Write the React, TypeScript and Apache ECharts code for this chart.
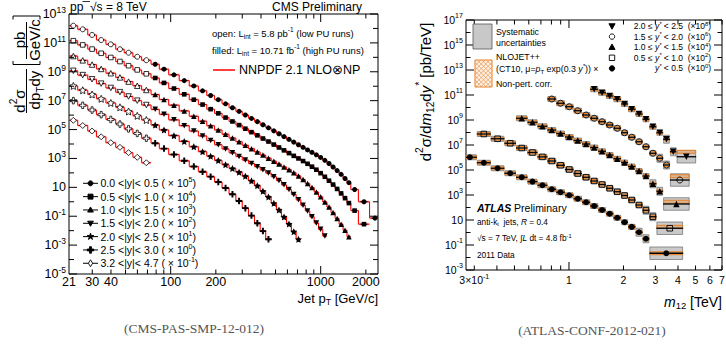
import React, { useEffect, useRef } from "react";
import * as echarts from "echarts";

const SANS = "'Liberation Sans', Arial, Helvetica, sans-serif";
const SERIF = "'Liberation Serif', 'DejaVu Serif', serif";

/* ================= left panel: CMS-PAS-SMP-12-012 ================= */
const ptEdges = [21, 24, 28, 32, 37, 43, 49, 56, 64, 74, 84, 97, 114, 133, 153, 174, 196, 220, 245, 272, 300, 330, 362, 395, 430, 468, 507, 548, 592, 638, 686, 737, 790, 846, 905, 967, 1032, 1101, 1172, 1248, 1327, 1410, 1497, 1588, 1784, 2116, 2500];
const firstHighPUBin = 9;
const cmsRapidity = ["0.0 <|y|< 0.5", "0.5 <|y|< 1.0", "1.0 <|y|< 1.5", "1.5 <|y|< 2.0", "2.0 <|y|< 2.5", "2.5 <|y|< 3.0", "3.2 <|y|< 4.7"];
const cmsScaleExp = [5, 4, 3, 2, 1, 0, -1];

// d2sigma/dpT dy [pb/(GeV/c)], low-PU (open) bins 0..8, high-PU (filled) from bin 9
const y00Open = [1.55e7, 8.71e6, 3.55e6, 1.58e6, 7.94e5, 3.63e5, 2.09e5, 1.1e5, 6.31e4];
const y00Filled = [3.31e4, 1.51e4, 6.17e3, 2.45e3, 1.05e3, 479, 229, 117, 60.3, 32.4, 18.2, 10.2, 5.89, 3.55, 2.14, 1.32, 0.813, 0.513, 0.324, 0.209, 0.135, 8.91e-2, 5.89e-2, 3.89e-2, 2.63e-2, 1.78e-2, 1.17e-2, 7.41e-3, 4.47e-3, 2.57e-3, 1.45e-3, 7.94e-4, 4.07e-4, 2.09e-4, 7.08e-5, 1.0e-5, 7.41e-7];
const y05Open = [1.41e7, 7.24e6, 3.72e6, 1.91e6, 9.77e5, 5.13e5, 2.63e5, 1.35e5, 7.24e4];
const y05Filled = [3.72e4, 1.7e4, 6.92e3, 2.75e3, 1.17e3, 537, 257, 132, 67.6, 36.3, 20.4, 11.5, 6.61, 3.98, 2.4, 1.48, 0.912, 0.575, 0.363, 0.234, 0.151, 0.1, 6.61e-2, 4.27e-2, 2.69e-2, 1.66e-2, 9.55e-3, 5.37e-3, 2.88e-3, 1.55e-3, 7.76e-4, 3.8e-4, 1.78e-4, 8.13e-5, 2.45e-5, 2.82e-6];
const y10Open = [1.23e7, 6.17e6, 3.16e6, 1.58e6, 7.94e5, 4.07e5, 2.09e5, 1.07e5, 5.5e4];
const y10Filled = [2.63e4, 1.2e4, 4.9e3, 1.95e3, 832, 380, 182, 93.3, 47.9, 25.7, 14.5, 8.13, 4.68, 2.82, 1.7, 1.05, 0.646, 0.407, 0.257, 0.166, 0.102, 6.17e-2, 3.47e-2, 1.86e-2, 9.55e-3, 4.68e-3, 2.19e-3, 9.77e-4, 4.27e-4, 1.78e-4, 7.08e-5, 2.82e-5, 1.05e-5, 3.8e-6];
const y15Open = [1.17e7, 5.89e6, 3.02e6, 1.51e6, 7.59e5, 3.89e5, 1.95e5, 1.0e5, 5.01e4];
const y15Filled = [2.51e4, 1.15e4, 4.68e3, 1.86e3, 794, 363, 174, 89.1, 45.7, 24.5, 13.8, 7.76, 4.47, 2.69, 1.62, 0.977, 0.55, 0.295, 0.148, 7.08e-2, 3.16e-2, 1.38e-2, 5.75e-3, 2.34e-3, 9.12e-4, 3.39e-4, 1.23e-4, 4.27e-5];
const y20Open = [1.05e7, 5.25e6, 2.69e6, 1.35e6, 6.92e5, 3.47e5, 1.78e5, 8.91e4, 4.57e4];
const y20Filled = [2.04e4, 9.33e3, 3.8e3, 1.51e3, 646, 295, 141, 72.4, 37.2, 20.0, 11.2, 5.89, 2.82, 1.29, 0.537, 0.214, 7.76e-2, 2.75e-2, 8.91e-3, 2.88e-3, 8.51e-4, 2.51e-4];
const y25Open = [1.0e7, 4.79e6, 2.24e6, 1.07e6, 5.01e5, 2.4e5, 1.12e5, 5.37e4, 2.51e4];
const y25Filled = [1.12e4, 4.79e3, 1.86e3, 692, 275, 120, 55.0, 23.4, 9.12, 3.31, 1.12, 0.363, 0.11, 3.24e-2, 9.33e-3, 2.51e-3];
const y32Open = [4.37e6, 1.91e6, 7.94e5, 3.16e5, 1.23e5, 5.89e4, 2.51e4, 1.2e4, 5.01e3];

const cmsXTickValues = [30, 40, 50, 60, 70, 80, 90, 100, 200, 300, 400, 500, 600, 700, 800, 900, 1000, 2000];
const cmsXTickLabels = ["30", "40", "", "", "", "", "", "100", "200", "", "", "", "", "", "", "", "1000", "2000"];
const cmsYTickExps = [-5, -4, -3, -2, -1, 0, 1, 2, 3, 4, 5, 6, 7, 8, 9, 10, 11, 12, 13];

/* ================= right panel: ATLAS-CONF-2012-021 ================= */
const m12Edges = [0.26, 0.31, 0.37, 0.44, 0.51, 0.59, 0.67, 0.76, 0.85, 0.95, 1.06, 1.18, 1.31, 1.45, 1.6, 1.76, 1.94, 2.12, 2.33, 2.55, 2.78, 3.04, 3.31, 3.61, 3.93, 4.27, 4.64, 5.04];
// d2sigma/dm12 dy* [pb/TeV], unscaled; first bin index into m12Edges; last wide bin [lo, hi, value]
const ys00 = [1.05e6, 3.8e5, 1.38e5, 5.5e4, 2.63e4, 1.17e4, 6.03e3, 2.88e3, 1.66e3, 955, 501, 263, 132, 63.1, 31.6, 15.1, 6.61, 2.82, 1.05, 0.316];
const ys00Wide = [2.78, 4.27, 0.0219];
const ys05 = [7.59e5, 3.16e5, 1.38e5, 5.75e4, 2.51e4, 1.12e4, 5.25e3, 2.4e3, 1.1e3, 525, 263, 132, 69.2, 34.7, 18.2, 9.12, 3.98, 1.58, 0.603, 0.182];
const ys05Wide = [3.04, 4.27, 0.0219];
const ys10 = [1.38e5, 6.61e4, 3.16e4, 1.58e4, 8.32e3, 4.37e3, 2.29e3, 1.2e3, 631, 316, 158, 79.4, 39.8, 19.1, 8.32, 3.31, 0.794, 0.2];
const ys10Wide = [3.31, 4.64, 0.0191];
const ys15 = [4.79e4, 2.19e4, 1.15e4, 5.5e3, 2.51e3, 1.38e3, 724, 398, 219, 95.5, 41.7, 18.2, 7.24, 2.19, 0.871, 0.251];
const ys15Wide = [3.61, 4.64, 0.0158];
const ys20 = [2.88e3, 1.51e3, 832, 457, 191, 72.4, 30.2, 11.5, 2.88, 0.955, 0.288, 0.0288];
const ys20Wide = [3.93, 5.04, 0.0115];
const atlasFirstBin = [0, 1, 4, 7, 12];
const atlasScaleExp = [0, 2, 4, 6, 8];
const atlasWideNloRatio = [1.0, 1.3, 1.5, 2.0, 2.5];
const atlasYStar = ["{it|y}{itsup|*} < 0.5", "0.5 ≤ {it|y}{itsup|*} < 1.0", "1.0 ≤ {it|y}{itsup|*} < 1.5", "1.5 ≤ {it|y}{itsup|*} < 2.0", "2.0 ≤ {it|y}{itsup|*} < 2.5"];

const atlasXTickValues = [0.3, 0.4, 0.5, 0.6, 0.7, 0.8, 0.9, 1, 2, 3, 4, 5, 6, 7];
const atlasXTickLabels = ["3×10{sup|-1}", "", "", "", "", "", "", "1", "2", "3", "4", "5", "6", "7"];
const atlasYTickExps = [-3, -2, -1, 0, 1, 2, 3, 4, 5, 6, 7, 8, 9, 10, 11, 12, 13, 14, 15, 16, 17];

/* ================= helpers ================= */
function richStyles(fs: number, family: string, fill: string) {
  const s = Math.round(fs * 0.68 * 10) / 10;
  return {
    sup: { fontSize: s, fontFamily: family, fill, lineHeight: fs * 0.75, verticalAlign: "top" },
    sub: { fontSize: s, fontFamily: family, fill, lineHeight: fs * 0.75, verticalAlign: "bottom" },
    it: { fontSize: fs, fontFamily: family, fill, fontStyle: "italic" },
    itsup: { fontSize: s, fontFamily: family, fill, fontStyle: "italic", lineHeight: fs * 0.75, verticalAlign: "top" },
    bi: { fontSize: fs, fontFamily: family, fill, fontStyle: "italic", fontWeight: "bold" },
  };
}

function T(text: string, x: number, y: number, fs: number, o: any = {}) {
  const family = o.family || SANS;
  const fill = o.fill || "#000";
  return {
    type: "text",
    x,
    y,
    rotation: o.rotation || 0,
    silent: true,
    z: 100,
    style: {
      text,
      fill,
      fontSize: fs,
      fontFamily: family,
      fontStyle: o.fontStyle || "normal",
      align: o.align || "left",
      verticalAlign: o.va || "middle",
      lineHeight: fs * (o.lh || 1.4),
      rich: richStyles(fs, family, fill),
    },
  };
}

function L(x1: number, y1: number, x2: number, y2: number, stroke = "#000", lw = 1) {
  return { type: "line", silent: true, z: 100, shape: { x1, y1, x2, y2 }, style: { stroke, lineWidth: lw } };
}

function markerEl(kind: string, cx: number, cy: number, r: number, filled: boolean) {
  const style = { fill: filled ? "#000" : "#fff", stroke: "#000", lineWidth: 0.9 };
  const base = { silent: true, z: 101, style };
  if (kind === "circle") return { ...base, type: "circle", shape: { cx, cy, r } };
  if (kind === "square") return { ...base, type: "rect", shape: { x: cx - r, y: cy - r, width: 2 * r, height: 2 * r } };
  let pts: number[][] = [];
  if (kind === "up") pts = [[cx, cy - r * 1.2], [cx + r * 1.15, cy + r * 0.85], [cx - r * 1.15, cy + r * 0.85]];
  if (kind === "down") pts = [[cx, cy + r * 1.2], [cx + r * 1.15, cy - r * 0.85], [cx - r * 1.15, cy - r * 0.85]];
  if (kind === "diamond") pts = [[cx, cy - r * 1.4], [cx + r * 0.85, cy], [cx, cy + r * 1.4], [cx - r * 0.85, cy]];
  if (kind === "star") {
    for (let k = 0; k < 10; k++) {
      const a = -Math.PI / 2 + (k * Math.PI) / 5;
      const rr = k % 2 === 0 ? r * 1.4 : r * 0.55;
      pts.push([cx + rr * Math.cos(a), cy + rr * Math.sin(a)]);
    }
  }
  if (kind === "cross") {
    const a = r * 1.3, b = r * 0.38;
    pts = [[cx - b, cy - a], [cx + b, cy - a], [cx + b, cy - b], [cx + a, cy - b], [cx + a, cy + b], [cx + b, cy + b], [cx + b, cy + a], [cx - b, cy + a], [cx - b, cy + b], [cx - a, cy + b], [cx - a, cy - b], [cx - b, cy - b]];
  }
  return { ...base, type: "polygon", shape: { points: pts } };
}

function hatch(x0: number, y0: number, w: number, h: number, step: number, color: string) {
  const els: any[] = [];
  for (let t = -h + step / 2; t < w; t += step) {
    let xa = x0 + t, ya = y0, xb = x0 + t + h, yb = y0 + h;
    if (xa < x0) { ya += x0 - xa; xa = x0; }
    if (xb > x0 + w) { yb -= xb - (x0 + w); xb = x0 + w; }
    els.push(L(xa, ya, xb, yb, color, 0.6));
    els.push(L(2 * x0 + w - xa, ya, 2 * x0 + w - xb, yb, color, 0.6));
  }
  return els;
}

const STAR = "path://M0,-10L2.9,-4L9.5,-3.1L4.7,1.5L5.9,8.1L0,5L-5.9,8.1L-4.7,1.5L-9.5,-3.1L-2.9,-4Z";
const CROSS = "path://M-3,-10L3,-10L3,-3L10,-3L10,3L3,3L3,10L-3,10L-3,3L-10,3L-10,-3L-3,-3Z";
const symbolFor: any = {
  circle: ["circle", 0, 5],
  square: ["rect", 0, 4.6],
  up: ["triangle", 0, 5.5],
  down: ["triangle", 180, 5.5],
  star: [STAR, 0, 7],
  cross: [CROSS, 0, 6.5],
  diamond: ["diamond", 0, 6],
};

function axisTicks(idx: number, dir: string, vals: number[], lens: number[], labels: string[], ref: number, fs: number, gap: number, lh: number) {
  return {
    type: "custom",
    coordinateSystem: "cartesian2d",
    xAxisIndex: idx,
    yAxisIndex: idx,
    silent: true,
    z: 20,
    encode: dir === "x" ? { x: 0, y: 1 } : { x: 1, y: 0 },
    data: vals.map((v, i) => [v, ref, i]),
    renderItem: (params: any, api: any) => {
      const cs = params.coordSys;
      const i = api.value(2);
      const len = lens[i];
      const els: any[] = [];
      if (dir === "x") {
        const p = api.coord([api.value(0), ref])[0];
        const b = cs.y + cs.height, t = cs.y;
        els.push({ type: "line", shape: { x1: p, y1: b, x2: p, y2: b - len }, style: { stroke: "#000", lineWidth: 1 } });
        els.push({ type: "line", shape: { x1: p, y1: t, x2: p, y2: t + len }, style: { stroke: "#000", lineWidth: 1 } });
        if (labels[i]) {
          els.push({ type: "text", x: p, y: b + gap, style: { text: labels[i], fill: "#000", fontSize: fs, fontFamily: SANS, align: "center", verticalAlign: "top", lineHeight: fs * lh, rich: richStyles(fs, SANS, "#000") } });
        }
      } else {
        const p = api.coord([ref, api.value(0)])[1];
        const l = cs.x, r = cs.x + cs.width;
        els.push({ type: "line", shape: { x1: l, y1: p, x2: l + len, y2: p }, style: { stroke: "#000", lineWidth: 1 } });
        els.push({ type: "line", shape: { x1: r, y1: p, x2: r - len, y2: p }, style: { stroke: "#000", lineWidth: 1 } });
        if (labels[i]) {
          els.push({ type: "text", x: l - gap, y: p, style: { text: labels[i], fill: "#000", fontSize: fs, fontFamily: SANS, align: "right", verticalAlign: "middle", lineHeight: fs * lh, rich: richStyles(fs, SANS, "#000") } });
        }
      }
      return { type: "group", children: els };
    },
  };
}

function expLabel(e: number) {
  return e === 1 ? "10" : "10{sup|" + e + "}";
}

function cmsHistRender(params: any, api: any) {
  const lo = api.value(0), hi = api.value(1), v = api.value(2), vn = api.value(3);
  const a = api.coord([lo, v]), b = api.coord([hi, v]);
  const bu = api.coord([lo, v * 1.3]), bd = api.coord([hi, v / 1.3]);
  const ch: any[] = [
    { type: "rect", shape: { x: bu[0], y: bu[1], width: bd[0] - bu[0], height: bd[1] - bu[1] }, style: { fill: "rgba(255,120,120,0.25)" } },
    { type: "line", shape: { x1: a[0], y1: a[1], x2: b[0], y2: b[1] }, style: { stroke: "#ff0000", lineWidth: 1.1 } },
  ];
  if (vn > 0) {
    const c = api.coord([hi, vn]);
    ch.push({ type: "line", shape: { x1: b[0], y1: b[1], x2: c[0], y2: c[1] }, style: { stroke: "#ff0000", lineWidth: 1.1 } });
  }
  const e1 = api.coord([Math.pow(lo, 0.82) * Math.pow(hi, 0.18), v]);
  const e2 = api.coord([Math.pow(lo, 0.18) * Math.pow(hi, 0.82), v]);
  ch.push({ type: "line", shape: { x1: e1[0], y1: e1[1], x2: e2[0], y2: e2[1] }, style: { stroke: "#000", lineWidth: 1 } });
  return { type: "group", children: ch };
}

function atlasBoxRender(params: any, api: any) {
  const lo = api.value(0), hi = api.value(1), v = api.value(2), s = api.value(3), r = api.value(4);
  const f = Math.pow(10, s);
  const a = api.coord([lo, v * f]), b = api.coord([hi, v / f]);
  const th = v * r, g = Math.pow(10, 0.12);
  const c = api.coord([lo, th * g]), d = api.coord([hi, th / g]);
  const e1 = api.coord([lo, v]), e2 = api.coord([hi, v]);
  return {
    type: "group",
    children: [
      { type: "rect", shape: { x: a[0] + 0.5, y: a[1], width: b[0] - a[0] - 1, height: b[1] - a[1] }, style: { fill: "#c9c9c9", stroke: "#6a6a6a", lineWidth: 0.7 } },
      { type: "rect", shape: { x: c[0] + 0.5, y: c[1], width: d[0] - c[0] - 1, height: d[1] - c[1] }, style: { fill: "rgba(238,140,50,0.35)", stroke: "#e8832a", lineWidth: 1 } },
      { type: "line", shape: { x1: e1[0], y1: e1[1], x2: e2[0], y2: e2[1] }, style: { stroke: "#000", lineWidth: 1.3 } },
    ],
  };
}

function buildOption() {
  const series: any[] = [];

  /* ---- CMS ---- */
  const cmsDefs = [
    { low: y00Open, high: y00Filled, kind: "circle" },
    { low: y05Open, high: y05Filled, kind: "square" },
    { low: y10Open, high: y10Filled, kind: "up" },
    { low: y15Open, high: y15Filled, kind: "down" },
    { low: y20Open, high: y20Filled, kind: "star" },
    { low: y25Open, high: y25Filled, kind: "cross" },
    { low: y32Open, high: [] as number[], kind: "diamond" },
  ];
  cmsDefs.forEach((d, i) => {
    const sc = Math.pow(10, cmsScaleExp[i]);
    const vals = d.low.concat(d.high);
    const hist = vals.map((v, k) => [ptEdges[k], ptEdges[k + 1], v * sc, k + 1 < vals.length ? vals[k + 1] * sc : 0]);
    series.push({ type: "custom", coordinateSystem: "cartesian2d", xAxisIndex: 0, yAxisIndex: 0, encode: { x: 0, y: 2 }, data: hist, renderItem: cmsHistRender, clip: true, silent: true, z: 2 });
    const sym = symbolFor[d.kind];
    series.push({
      type: "scatter", xAxisIndex: 0, yAxisIndex: 0, silent: true, z: 4,
      symbol: sym[0], symbolRotate: sym[1], symbolSize: sym[2],
      itemStyle: { color: "#fff", borderColor: "#000", borderWidth: 0.8, opacity: 1 },
      data: d.low.map((v, k) => [Math.sqrt(ptEdges[k] * ptEdges[k + 1]), v * sc]),
    });
    if (d.high.length) {
      series.push({
        type: "scatter", xAxisIndex: 0, yAxisIndex: 0, silent: true, z: 4,
        symbol: sym[0], symbolRotate: sym[1], symbolSize: sym[2],
        itemStyle: { color: "#000", opacity: 1 },
        data: d.high.map((v, j) => {
          const k = firstHighPUBin + j;
          return [Math.sqrt(ptEdges[k] * ptEdges[k + 1]), v * sc];
        }),
      });
    }
  });

  /* ---- ATLAS ---- */
  const atlasDefs = [
    { vals: ys00, wide: ys00Wide, kind: "circle", filled: true },
    { vals: ys05, wide: ys05Wide, kind: "square", filled: false },
    { vals: ys10, wide: ys10Wide, kind: "up", filled: true },
    { vals: ys15, wide: ys15Wide, kind: "circle", filled: false },
    { vals: ys20, wide: ys20Wide, kind: "down", filled: true },
  ];
  atlasDefs.forEach((d, i) => {
    const sc = Math.pow(10, atlasScaleExp[i]);
    const n = d.vals.length;
    const boxes: number[][] = d.vals.map((v, j) => {
      const k = atlasFirstBin[i] + j;
      return [m12Edges[k], m12Edges[k + 1], v * sc, j >= n - 2 ? 0.32 : 0.2, 1];
    });
    boxes.push([d.wide[0], d.wide[1], d.wide[2] * sc, 0.5, atlasWideNloRatio[i]]);
    series.push({ type: "custom", coordinateSystem: "cartesian2d", xAxisIndex: 1, yAxisIndex: 1, encode: { x: 0, y: 2 }, data: boxes, renderItem: atlasBoxRender, clip: true, silent: true, z: 2 });
    const sym = symbolFor[d.kind];
    series.push({
      type: "scatter", xAxisIndex: 1, yAxisIndex: 1, silent: true, z: 4,
      symbol: sym[0], symbolRotate: sym[1], symbolSize: sym[2] + 1,
      itemStyle: d.filled ? { color: "#000", opacity: 1 } : { color: "rgba(0,0,0,0)", borderColor: "#000", borderWidth: 0.9, opacity: 1 },
      data: boxes.map((b) => [Math.sqrt(b[0] * b[1]), b[2]]),
    });
  });

  /* ---- ticks & tick labels ---- */
  series.push(axisTicks(0, "x", cmsXTickValues, cmsXTickValues.map((v) => (v === 100 || v === 1000 ? 8 : 4.5)), cmsXTickLabels, 1, 12.5, 1, 1.15));
  series.push(axisTicks(0, "x", [21], [0], ["21"], 1, 12.5, 1, 1.15));
  series.push(axisTicks(0, "y", cmsYTickExps.map((e) => Math.pow(10, e)), cmsYTickExps.map((e) => (Math.abs(e) % 2 === 1 ? 8 : 5)), cmsYTickExps.map((e) => (Math.abs(e) % 2 === 1 ? expLabel(e) : "")), 100, 12.5, 3, 1.4));
  series.push(axisTicks(1, "x", atlasXTickValues, atlasXTickValues.map((v) => (v === 1 ? 8 : 4.5)), atlasXTickLabels, 1, 10.5, 3, 1.3));
  series.push(axisTicks(1, "y", atlasYTickExps.map((e) => Math.pow(10, e)), atlasYTickExps.map((e) => (Math.abs(e) % 2 === 1 ? 8 : 4.5)), atlasYTickExps.map((e) => (Math.abs(e) % 2 === 1 ? expLabel(e) : "")), 1, 10.5, 3, 1.4));

  /* ---- decorations ---- */
  const g: any[] = [];
  // CMS y-axis title (rotated fraction)
  const rot = Math.PI / 2;
  g.push(T("d{sup|2}σ", 19, 101, 15, { rotation: rot, align: "center" }));
  g.push(L(26.5, 69, 26.5, 113, "#000", 1));
  g.push(T("dp{sub|T}dy", 34.5, 90, 15, { rotation: rot, align: "center" }));
  g.push({ type: "polyline", silent: true, z: 100, shape: { points: [[13, 61], [13, 64.5], [40, 64.5], [40, 61]] }, style: { stroke: "#000", lineWidth: 1, fill: null } });
  g.push({ type: "polyline", silent: true, z: 100, shape: { points: [[13, 19.5], [13, 16], [40, 16], [40, 19.5]] }, style: { stroke: "#000", lineWidth: 1, fill: null } });
  g.push(T("pb", 19.5, 40, 15, { rotation: rot, align: "center" }));
  g.push(L(26.5, 22, 26.5, 59, "#000", 1));
  g.push(T("GeV/c", 34.5, 40, 15, { rotation: rot, align: "center" }));
  // CMS header
  g.push(T("pp  √s = 8 TeV", 70, 7, 12));
  g.push(L(82.5, 1.5, 90, 1.5, "#000", 0.8));
  g.push(T("CMS Preliminary", 362, 7, 12, { align: "right" }));
  g.push(T("open: L{sub|int} = 5.8 pb{sup|-1} (low PU runs)", 212, 33, 9.5));
  g.push(T("filled: L{sub|int} = 10.71 fb{sup|-1} (high PU runs)", 212, 50, 9.5));
  g.push(L(213, 70, 235, 70, "#ff0000", 1.5));
  g.push(T("NNPDF 2.1 NLO⊗NP", 239, 70, 12.5));
  // CMS rapidity legend
  const cmsKinds = ["circle", "square", "up", "down", "star", "cross", "diamond"];
  cmsRapidity.forEach((lab, i) => {
    const y = 183.3 + i * 13.33;
    g.push(L(83, y, 98, y, "#000", 1));
    g.push(markerEl(cmsKinds[i], 90.5, y, 2.5, i < 6));
    g.push(T(lab + " ( × 10{sup|" + cmsScaleExp[i] + "})", 100.5, y, 10.5, { lh: 1.25 }));
  });
  g.push(T("Jet p{sub|T} [GeV/c]", 378, 298.5, 13, { align: "right", lh: 1.2 }));
  g.push(T("(CMS-PAS-SMP-12-012)", 194, 328, 13.5, { align: "center", family: SERIF, fill: "#555", lh: 1.2 }));

  // ATLAS y title
  g.push(T("d{sup|2}σ/d{it|m}{sub|12}d{it|y}{itsup|*} [pb/TeV]", 425, 92, 15, { rotation: rot, align: "center" }));
  // ATLAS legend (left)
  g.push({ type: "rect", silent: true, z: 100, shape: { x: 473, y: 24, width: 19, height: 25 }, style: { fill: "#c8c8c8", stroke: "#555", lineWidth: 0.8 } });
  g.push(T("Systematic", 496, 32, 8.8, { lh: 1.2 }));
  g.push(T("uncertainties", 496, 43, 8.8, { lh: 1.2 }));
  g.push({ type: "rect", silent: true, z: 100, shape: { x: 475, y: 60, width: 17, height: 27 }, style: { fill: "rgba(240,150,70,0.12)", stroke: "#e8832a", lineWidth: 1 } });
  hatch(475, 60, 17, 27, 4.5, "#e8832a").forEach((e) => g.push(e));
  g.push(T("NLOJET++", 496, 57, 8.8, { lh: 1.2 }));
  g.push(T("(CT10, μ={it|p}{sub|T} exp(0.3 {it|y}{itsup|*})) ×", 496, 69, 8.8, { lh: 1.3 }));
  g.push(T("Non-pert. corr.", 496, 84, 8.8, { lh: 1.2 }));
  // ATLAS legend (right)
  const atlasKinds = ["circle", "square", "up", "circle", "down"];
  const atlasFilled = [true, false, true, false, true];
  for (let i = 4; i >= 0; i--) {
    const y = 26 + (4 - i) * 10.6;
    g.push(markerEl(atlasKinds[i], 612, y, 2.7, atlasFilled[i]));
    g.push(T(atlasYStar[i] + "  (×10{sup|" + atlasScaleExp[i] + "})", 711, y, 8.5, { align: "right", lh: 1.25 }));
  }
  g.push(T("{bi|ATLAS} Preliminary", 477, 208, 10.5, { lh: 1.2 }));
  g.push(T("anti-k{sub|t}  jets, {it|R} = 0.4", 477, 222, 8.3, { lh: 1.3 }));
  g.push(T("√s = 7 TeV, ∫{it|L} dt = 4.8 fb{sup|-1}", 477, 238, 8.3, { lh: 1.3 }));
  g.push(T("2011 Data", 477, 255, 8.3, { lh: 1.2 }));
  g.push(T("{it|m}{sub|12} [TeV]", 722, 302, 14, { align: "right", lh: 1.2 }));
  g.push(T("(ATLAS-CONF-2012-021)", 592, 330, 13.5, { align: "center", family: SERIF, fill: "#555", lh: 1.2 }));

  const hiddenAxis = { axisLine: { show: false }, axisTick: { show: false }, axisLabel: { show: false }, splitLine: { show: false }, minorTick: { show: false } };

  return {
    animation: false,
    backgroundColor: "#fff",
    textStyle: { fontFamily: SANS },
    grid: [
      { left: 69, top: 14, width: 309, height: 260, show: true, borderColor: "#000", borderWidth: 1, backgroundColor: "transparent" },
      { left: 466, top: 20, width: 256, height: 250, show: true, borderColor: "#000", borderWidth: 1, backgroundColor: "transparent" },
    ],
    xAxis: [
      { type: "log", logBase: 10, gridIndex: 0, min: 21, max: 2410, ...hiddenAxis },
      { type: "log", logBase: 10, gridIndex: 1, min: 0.27, max: 7, ...hiddenAxis },
    ],
    yAxis: [
      { type: "log", logBase: 10, gridIndex: 0, min: 1e-5, max: 1e13, ...hiddenAxis },
      { type: "log", logBase: 10, gridIndex: 1, min: 1e-3, max: 1e17, ...hiddenAxis },
    ],
    graphic: { elements: g },
    series,
  };
}

export default function App() {
  const ref = useRef<HTMLDivElement>(null);
  useEffect(() => {
    if (!ref.current) return;
    const chart = echarts.init(ref.current, null, { renderer: "svg" });
    chart.setOption(buildOption() as any);
    return () => chart.dispose();
  }, []);
  return <div ref={ref} style={{ position: "fixed", left: 0, top: 0, width: 726, height: 345, background: "#fff" }} />;
}
